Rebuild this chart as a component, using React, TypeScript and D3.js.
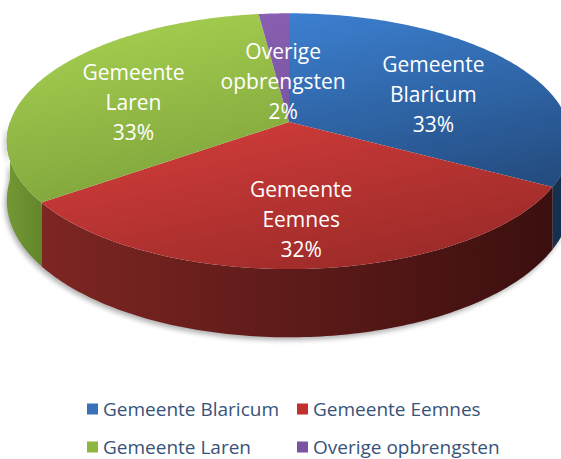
import React from 'react';
import * as d3 from 'd3';

const categories = ['Gemeente Blaricum', 'Gemeente Eemnes', 'Gemeente Laren', 'Overige opbrengsten'];
const labelNames = [['Gemeente', 'Blaricum'], ['Gemeente', 'Eemnes'], ['Gemeente', 'Laren'], ['Overige', 'opbrengsten']];
const values = [33, 32, 33, 2];
const topLight = ['#3d82d4', '#ea4442', '#a1c94d', '#8a60b2'];
const topDark = ['#1d3e6a', '#9a2a28', '#65892f', '#5e4285'];
const sideLight = ['#23456e', '#7e2623', '#739734', '#5e4285'];
const sideDark = ['#16304f', '#3a0f0e', '#5f8129', '#4a3470'];
const legendColors = ['#3a70b8', '#c0302e', '#8db640', '#7a54a3'];

const W = 561, H = 459;
const CX = 289, CY = 122, FX = 279, GY = 125, K = 0.15, DEPTH = 58;

function proj(theta: number, r = 1): [number, number] {
  const X = Math.sin(theta) * r, Y = Math.cos(theta) * r;
  const d = 1 + K * Y;
  return [CX + (FX * X) / d, CY - (GY * Y) / d];
}
function projBottom(theta: number): [number, number] {
  const [x, y] = proj(theta);
  const Y = Math.cos(theta);
  return [x, y + DEPTH / (1 + K * Y)];
}
function rimPoints(a0: number, a1: number, f: (t: number) => [number, number]) {
  const n = Math.max(2, Math.ceil(((a1 - a0) * 180) / Math.PI));
  return d3.range(n + 1).map((i) => f(a0 + ((a1 - a0) * i) / n));
}

export default function App() {
  const total = d3.sum(values);
  const arcs = d3.pie<number>().sort(null).startAngle(0).endAngle(2 * Math.PI)(values);
  const line = d3.line();

  const sides = arcs
    .map((a, i) => {
      const s0 = Math.max(a.startAngle, Math.PI / 2);
      const s1 = Math.min(a.endAngle, (3 * Math.PI) / 2);
      if (s1 <= s0) return null;
      const top = rimPoints(s0, s1, (t) => proj(t));
      const bot = rimPoints(s0, s1, projBottom).reverse();
      return { i, d: line([...top, ...bot])! + 'Z' };
    })
    .filter(Boolean) as { i: number; d: string }[];

  const tops = arcs.map((a, i) => {
    const pts = [[CX, CY] as [number, number], ...rimPoints(a.startAngle, a.endAngle, (t) => proj(t))];
    return { i, d: line(pts)! + 'Z' };
  });

  const shadowPts = [
    ...rimPoints(Math.PI / 2, (3 * Math.PI) / 2, (t) => proj(t)),
    ...rimPoints(Math.PI / 2, (3 * Math.PI) / 2, projBottom).reverse(),
  ];

  const labels = arcs.map((a, i) => {
    const share = values[i] / total;
    const mid = (a.startAngle + a.endAngle) / 2;
    const r = share < 0.05 ? 0.35 : 0.63;
    const [x, y] = proj(mid, r);
    const dy = share < 0.05 ? 0 : 10;
    return { x, y: y + dy, lines: [...labelNames[i], `${Math.round(share * 100)}%`] };
  });

  const legendRowY = [409, 447];
  const legendCols = [87, 297];

  return (
    <svg width={W} height={H} style={{ position: 'absolute', left: 0, top: 0, background: '#fff' }}>
      <defs>
        {values.map((_, i) => (
          <linearGradient key={'t' + i} id={'top' + i} gradientUnits="userSpaceOnUse" x1={260} y1={10} x2={320} y2={290}>
            <stop offset="0" stopColor={topLight[i]} />
            <stop offset="1" stopColor={topDark[i]} />
          </linearGradient>
        ))}
        {values.map((_, i) => (
          <linearGradient key={'s' + i} id={'side' + i} gradientUnits="userSpaceOnUse" x1={i === 2 ? 8 : 40} y1={0} x2={i === 2 ? 50 : 561} y2={0}>
            <stop offset="0" stopColor={sideLight[i]} />
            <stop offset="1" stopColor={sideDark[i]} />
          </linearGradient>
        ))}
        <filter id="blur" x="-10%" y="-10%" width="120%" height="130%">
          <feGaussianBlur stdDeviation="2.5" />
        </filter>
      </defs>
      <path d={line(shadowPts)! + 'Z'} transform="translate(-2,3)" fill="#000" opacity={0.3} filter="url(#blur)" />
      {sides.map((s) => (
        <path key={'side' + s.i} d={s.d} fill={`url(#side${s.i})`} />
      ))}
      {tops.map((t) => (
        <path key={'top' + t.i} d={t.d} fill={`url(#top${t.i})`} />
      ))}
      {labels.map((l, i) => (
        <text key={'l' + i} x={l.x} y={l.y} textAnchor="middle" fill="#fff" fontFamily="'Open Sans', sans-serif" fontSize={21}>
          {l.lines.map((s, j) => (
            <tspan key={j} x={l.x} y={l.y + (j - 1) * 30} dominantBaseline="central">
              {s}
            </tspan>
          ))}
        </text>
      ))}
      {categories.map((c, i) => {
        const cy = legendRowY[Math.floor(i / 2)];
        const x = legendCols[i % 2];
        return (
          <g key={'lg' + i}>
            <rect x={x} y={cy - 5.5} width={11} height={11} fill={legendColors[i]} />
            <text x={x + 16} y={cy} dominantBaseline="central" fill="#38537a" fontFamily="'Open Sans', sans-serif" fontSize={19}>
              {c}
            </text>
          </g>
        );
      })}
    </svg>
  );
}
